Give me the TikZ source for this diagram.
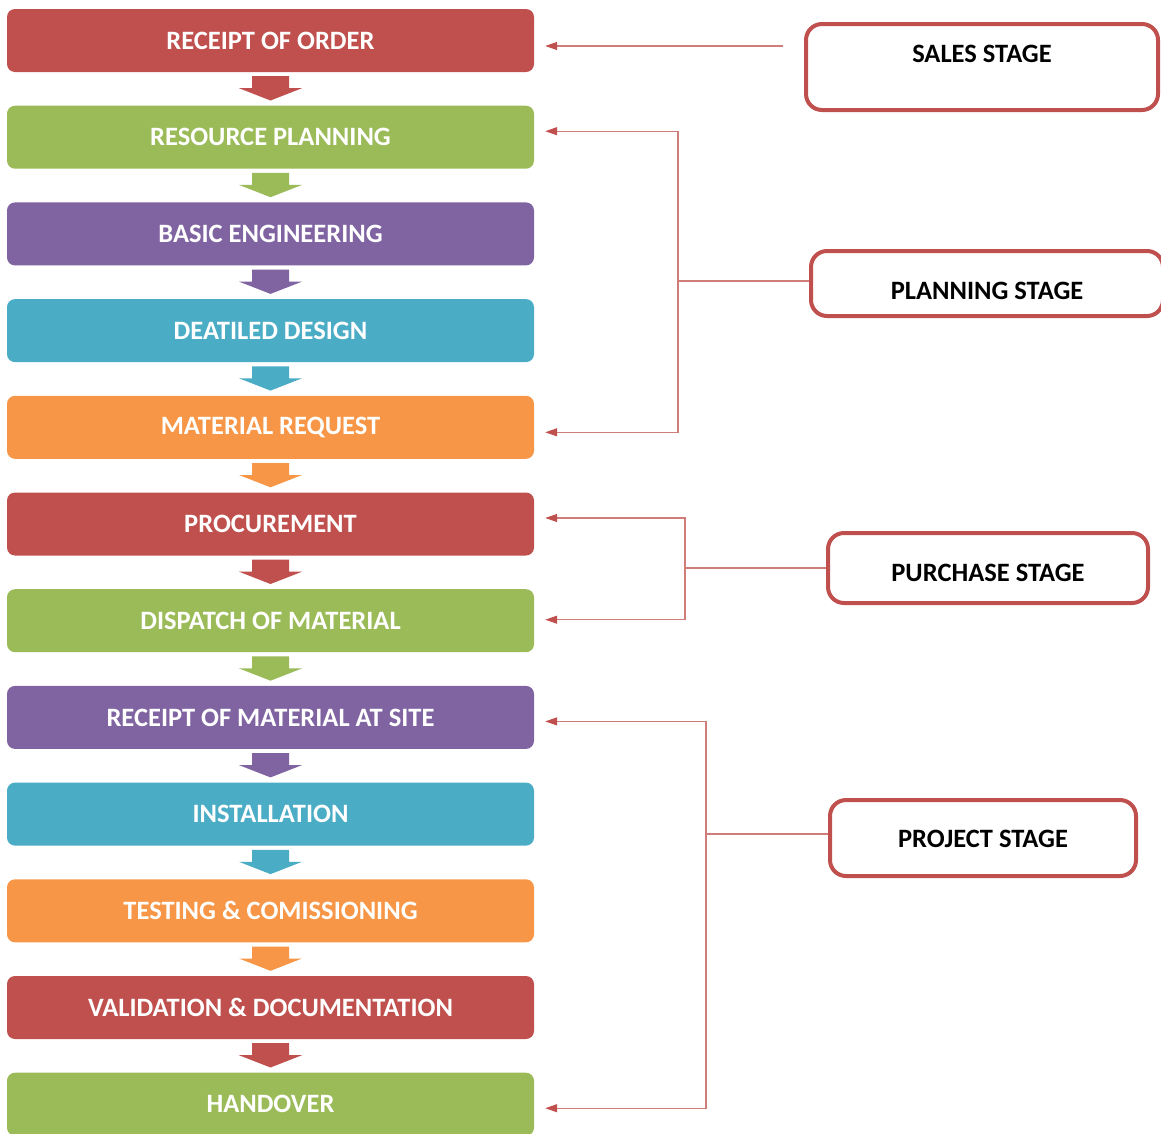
\documentclass[tikz,border=0pt]{standalone}
\usepackage{fontspec}
\setmainfont{Carlito}
\usetikzlibrary{arrows.meta,calc}

\definecolor{cred}{HTML}{C0504D}
\definecolor{cgreen}{HTML}{9BBB59}
\definecolor{cpurple}{HTML}{8064A2}
\definecolor{cteal}{HTML}{4BACC6}
\definecolor{corange}{HTML}{F79646}

\begin{document}
\begin{tikzpicture}[
    x=1pt, y=-1pt,
    stepbox/.style={rectangle, rounded corners=8pt, minimum width=527pt, minimum height=63pt,
      inner sep=0pt, text=white, font=\fontsize{26.5}{30}\selectfont\bfseries},
    stagebox/.style={rectangle, draw=cred, line width=4pt, rounded corners=16pt, fill=white,
      inner sep=0pt, font=\fontsize{26.5}{30}\selectfont\bfseries},
    trunk/.style={draw=cred!75, line width=1.2pt},
    link/.style={trunk, -{Triangle[length=12pt,width=8pt,color=cred]}}
  ]
  \useasboundingbox (0,0) rectangle (1161,1133);

  % Process steps
  \node[stepbox, fill=cred]    (order)    at (270.5,40.5)  {RECEIPT OF ORDER};
  \node[stepbox, fill=cgreen]  (resource) at (270.5,137.2) {RESOURCE PLANNING};
  \node[stepbox, fill=cpurple] (basic)    at (270.5,233.9) {BASIC ENGINEERING};
  \node[stepbox, fill=cteal]   (design)   at (270.5,330.6) {DEATILED DESIGN};
  \node[stepbox, fill=corange] (request)  at (270.5,427.3) {MATERIAL REQUEST};
  \node[stepbox, fill=cred]    (procure)  at (270.5,524.0) {PROCUREMENT};
  \node[stepbox, fill=cgreen]  (dispatch) at (270.5,620.7) {DISPATCH OF MATERIAL};
  \node[stepbox, fill=cpurple] (siterec)  at (270.5,717.4) {RECEIPT OF MATERIAL AT SITE};
  \node[stepbox, fill=cteal]   (install)  at (270.5,814.1) {INSTALLATION};
  \node[stepbox, fill=corange] (testing)  at (270.5,910.8) {TESTING \& COMISSIONING};
  \node[stepbox, fill=cred]    (validate) at (270.5,1007.5) {VALIDATION \& DOCUMENTATION};
  \node[stepbox, fill=cgreen]  (handover) at (270.5,1104.2) {HANDOVER};

  % Block arrows between steps
  \foreach \a/\b/\c in {order/resource/cred, resource/basic/cgreen, basic/design/cpurple,
      design/request/cteal, request/procure/corange, procure/dispatch/cred,
      dispatch/siterec/cgreen, siterec/install/cpurple, install/testing/cteal,
      testing/validate/corange, validate/handover/cred}
    \fill[\c] ($(\a.south)+(-18.5,4)$) -- ++(37,0) -- ++(0,12) -- ++(13,0)
      -- ($(\b.north)+(0,-5)$) -- ($(\a.south)+(-31.5,16)$) -- ++(13,0) -- cycle;

  % Stage boxes
  \node[stagebox, minimum width=352pt, text height=38pt, text depth=48pt] (sales) at (982,67) {SALES STAGE};
  \node[stagebox, minimum width=352pt, text height=48pt, text depth=17pt] (planning) at (987,283.5) {PLANNING STAGE};
  \node[stagebox, minimum width=320pt, text height=48pt, text depth=22pt] (purchase) at (988,568) {PURCHASE STAGE};
  \node[stagebox, minimum width=306pt, text height=47pt, text depth=29pt] (project) at (983,838) {PROJECT STAGE};

  % Connectors
  \coordinate (salesend) at (783,46);
  \draw[link] (salesend) -- ($(order.east |- salesend)+(11,0)$);

  \coordinate (planjoin) at (678,281);
  \draw[trunk] (planning.west |- planjoin) -- (planjoin);
  \draw[link] (planjoin) |- ($(resource.east)+(11,-6)$);
  \draw[link] (planjoin) |- ($(request.east)+(11,5)$);

  \coordinate (purchjoin) at (685,568);
  \draw[trunk] (purchase.west |- purchjoin) -- (purchjoin);
  \draw[link] (purchjoin) |- ($(procure.east)+(11,-6)$);
  \draw[link] (purchjoin) |- ($(dispatch.east)+(11,-1)$);

  \coordinate (projjoin) at (706,834);
  \draw[trunk] (project.west |- projjoin) -- (projjoin);
  \draw[link] (projjoin) |- ($(siterec.east)+(11,4)$);
  \draw[link] (projjoin) |- ($(handover.east)+(11,4)$);

\end{tikzpicture}
\end{document}
